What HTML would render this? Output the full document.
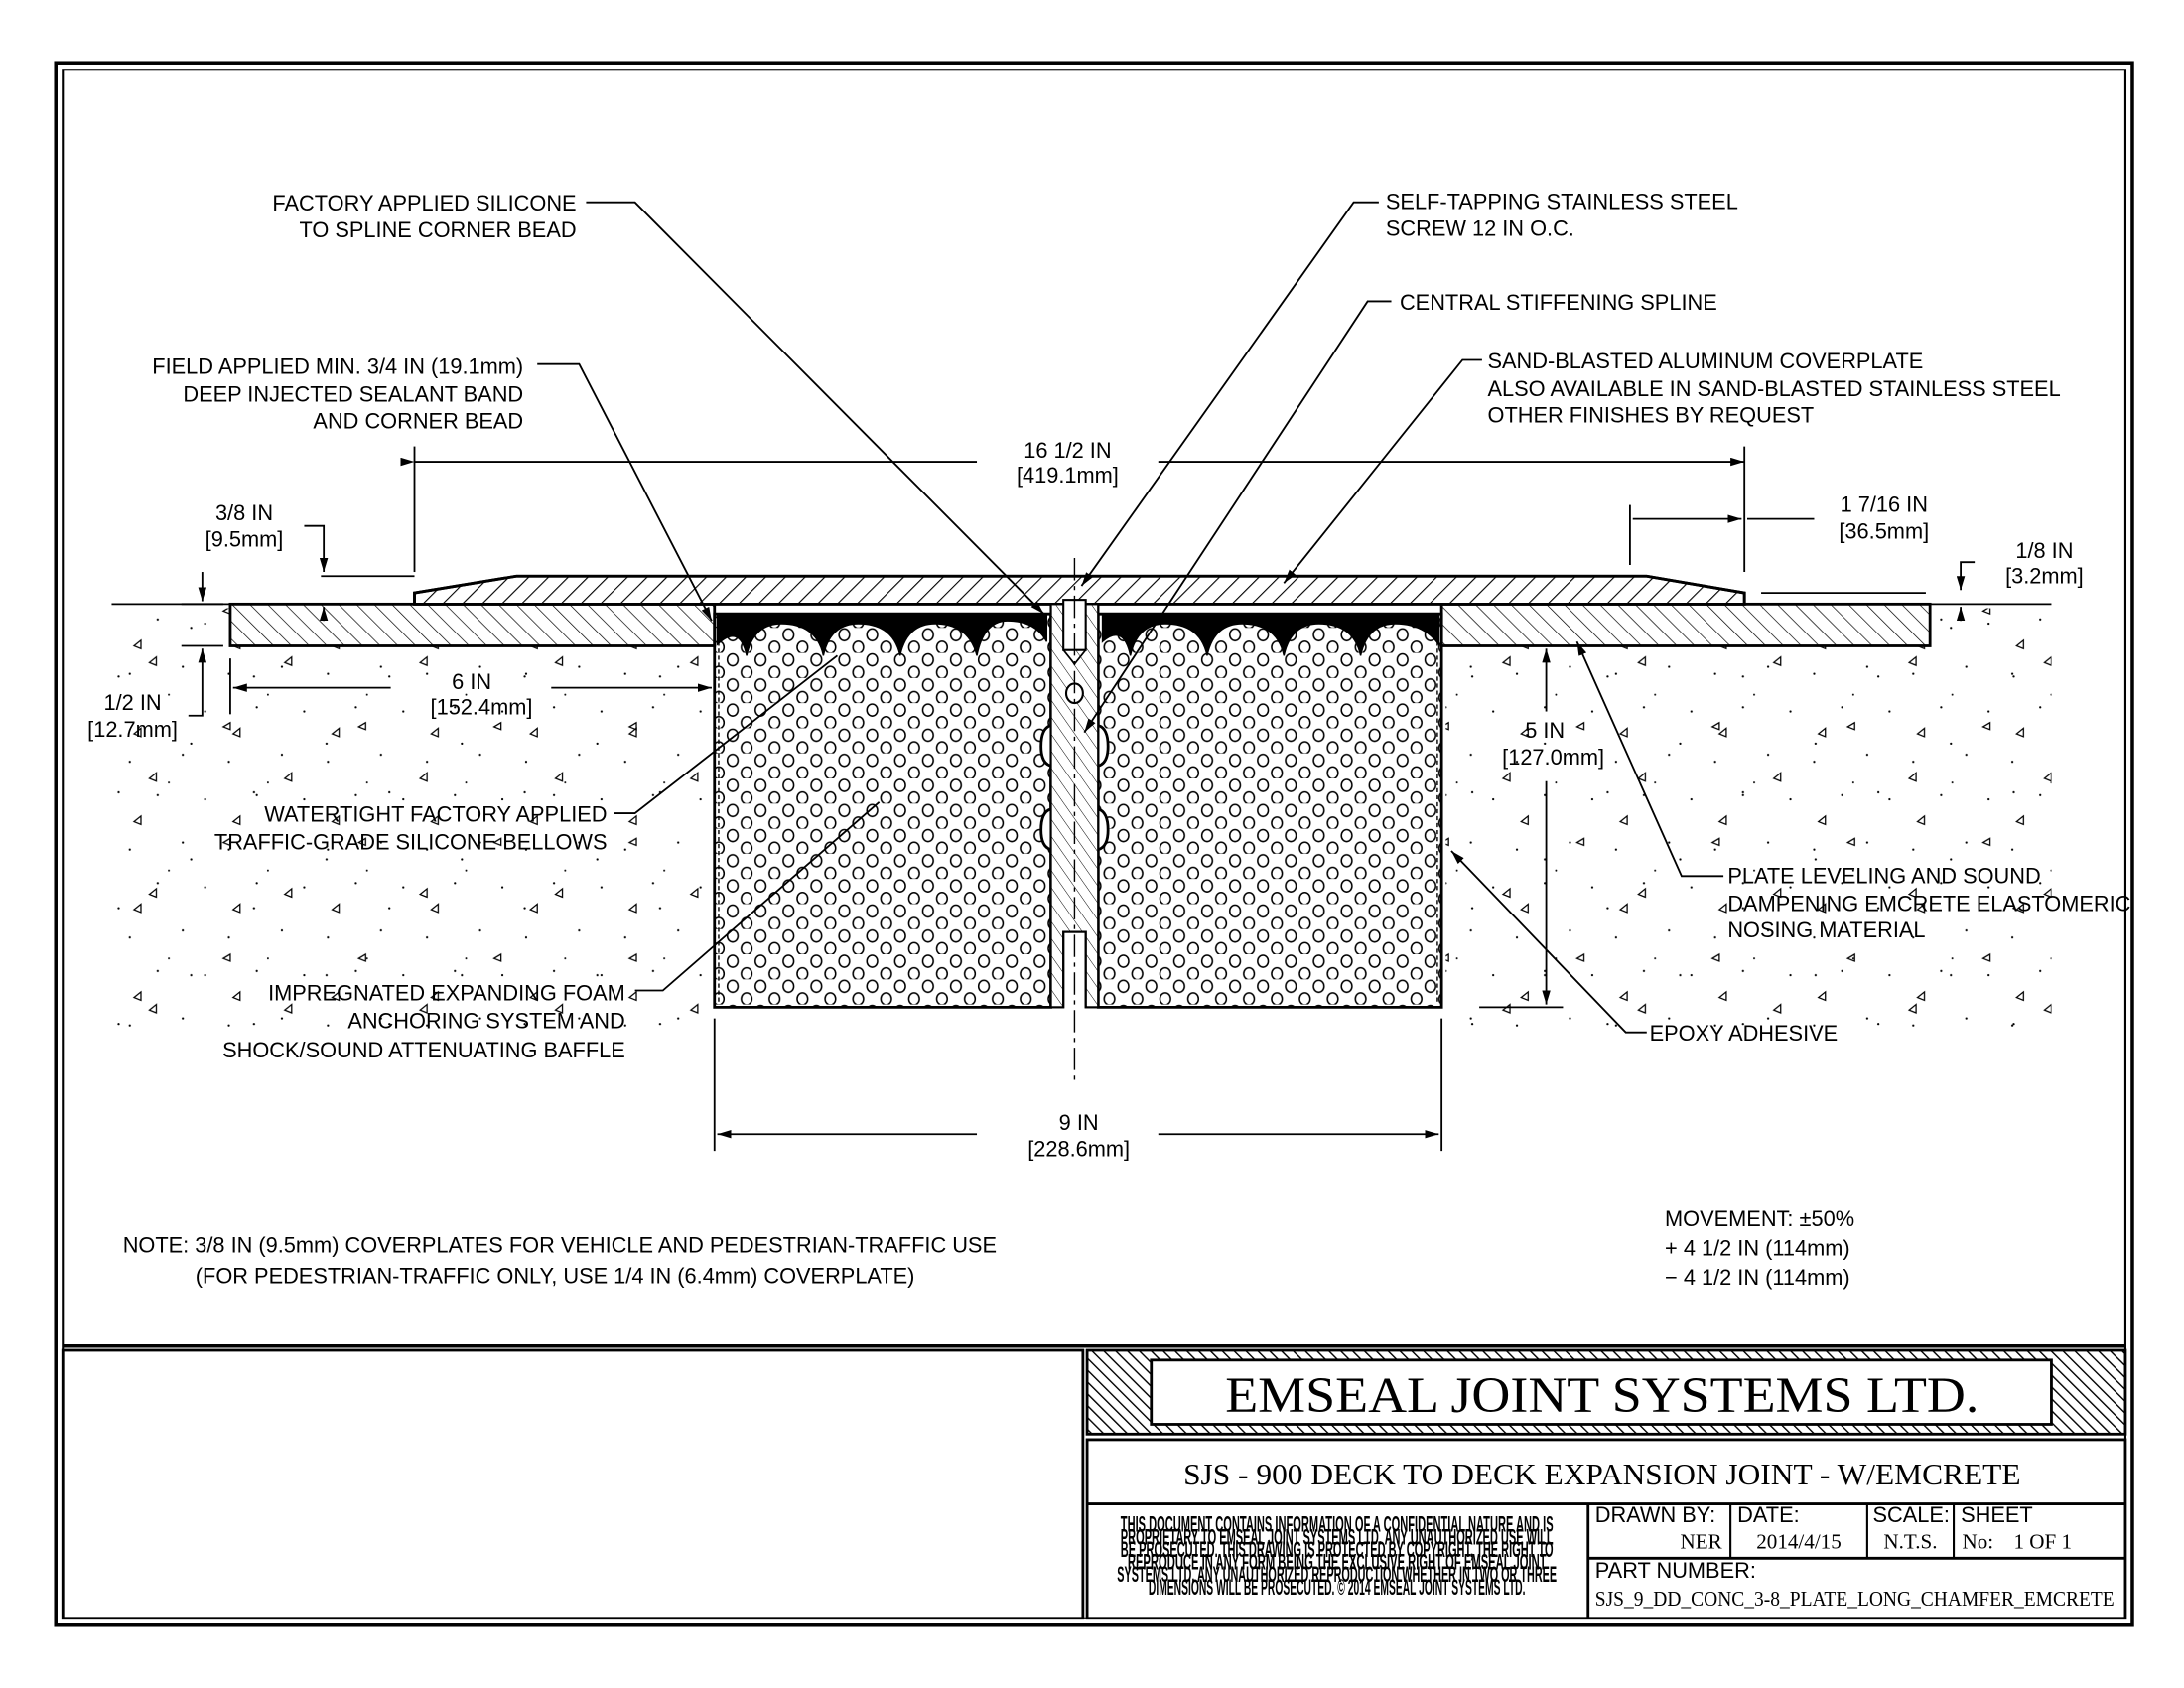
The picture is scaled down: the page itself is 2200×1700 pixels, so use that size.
<!DOCTYPE html>
<html><head><meta charset="utf-8"><style>
html,body{margin:0;padding:0;background:#fff;}
svg{display:block;}
text{font-family:"Liberation Sans",sans-serif;font-size:15.5px;fill:#000;}
.s{font-family:"Liberation Serif",serif;}
</style></head><body>
<svg width="2200" height="1700" viewBox="0 0 1565 1210" preserveAspectRatio="none" xmlns="http://www.w3.org/2000/svg">
<defs>
<pattern id="h1" width="10" height="10" patternUnits="userSpaceOnUse" patternTransform="rotate(45)">
<line x1="0" y1="0" x2="0" y2="10" stroke="#000" stroke-width="1.6"/></pattern>
<pattern id="h2" width="9" height="9" patternUnits="userSpaceOnUse" patternTransform="rotate(-45)">
<line x1="0" y1="0" x2="0" y2="9" stroke="#000" stroke-width="1"/></pattern>
<pattern id="h3" width="7" height="7" patternUnits="userSpaceOnUse" patternTransform="rotate(-35)">
<line x1="0" y1="0" x2="0" y2="7" stroke="#000" stroke-width="0.7"/></pattern>
<pattern id="h4" width="6" height="6" patternUnits="userSpaceOnUse" patternTransform="rotate(-45)">
<line x1="0" y1="0" x2="0" y2="6" stroke="#000" stroke-width="2"/></pattern>
<pattern id="foam" width="20" height="18" patternUnits="userSpaceOnUse">
<ellipse cx="5" cy="5" rx="3.8" ry="4.3" fill="none" stroke="#000" stroke-width="1.1"/>
<ellipse cx="15" cy="14" rx="3.8" ry="4.3" fill="none" stroke="#000" stroke-width="1.1"/></pattern>
<pattern id="conc" width="71" height="63" patternUnits="userSpaceOnUse">
<circle cx="5" cy="6" r="0.8"/><circle cx="42" cy="3" r="0.8"/><circle cx="60" cy="37" r="0.8"/>
<circle cx="22" cy="42" r="0.8"/><circle cx="50" cy="57" r="0.7"/><path d="M25 22 l5 -4 l0 6z" fill="none" stroke="#000" stroke-width="0.9"/></pattern>
<pattern id="conc2" width="97" height="83" patternUnits="userSpaceOnUse">
<path d="M10 60 l5 -4 l0 6z M68 20 l-5 3 l5 2z" fill="none" stroke="#000" stroke-width="0.9"/><circle cx="85" cy="70" r="0.8"/><circle cx="40" cy="35" r="0.8"/></pattern>
<marker id="ar" viewBox="0 0 10 6" refX="10" refY="3" markerWidth="10" markerHeight="6" orient="auto" markerUnits="userSpaceOnUse"><path d="M0 0L10 3L0 6z"/></marker>
</defs>

<rect x="40" y="45" width="1488" height="1120" fill="none" stroke="#000" stroke-width="2.5"/>
<rect x="45" y="50" width="1478" height="1110" fill="none" stroke="#000" stroke-width="1.5"/>
<line x1="45" y1="965" x2="1523" y2="965" stroke="#000" stroke-width="2.5"/>
<rect x="45" y="968" width="731" height="192" fill="none" stroke="#000" stroke-width="2"/>

<rect x="80" y="436" width="432" height="310" fill="url(#conc)"/>
<rect x="80" y="436" width="432" height="310" fill="url(#conc2)"/>
<rect x="1036" y="436" width="434" height="310" fill="url(#conc)"/>
<rect x="1036" y="436" width="434" height="310" fill="url(#conc2)"/>
<rect x="165" y="434" width="347" height="29" fill="#fff"/>
<rect x="1033" y="434" width="350" height="29" fill="#fff"/>

<g stroke="#000" fill="none">
<line x1="80" y1="433" x2="165" y2="433" stroke-width="1.2"/>
<line x1="1383" y1="433" x2="1470" y2="433" stroke-width="1.2"/>
<rect x="165" y="433" width="347" height="30" fill="url(#h2)" stroke-width="2"/>
<rect x="1033" y="433" width="350" height="30" fill="url(#h2)" stroke-width="2"/>
<path d="M297 433 L297 425 L370 413 L1180 413 L1250 425 L1250 433 Z" fill="#fff" stroke-width="2"/>
<path d="M297 433 L297 425 L370 413 L1180 413 L1250 425 L1250 433 Z" fill="url(#h1)" stroke-width="2"/>
<path d="M512 440 L753 440 L753 520 Q746 522 746 535 Q746 547 753 549 L753 580 Q746 582 746 595 Q746 607 753 609 L753 722 L512 722 Z" fill="url(#foam)" stroke-width="2"/>
<path d="M787 440 L1033 440 L1033 722 L787 722 L787 609 Q794 607 794 595 Q794 582 787 580 L787 549 Q794 547 794 535 Q794 522 787 520 Z" fill="url(#foam)" stroke-width="2"/>
<path d="M753 433 L787 433 L787 722 L778 722 L778 668 L762 668 L762 722 L753 722 Z" fill="#fff" stroke-width="1.5"/>
<path d="M753 433 L787 433 L787 722 L778 722 L778 668 L762 668 L762 722 L753 722 Z" fill="url(#h3)" stroke-width="1.5"/>
<rect x="762" y="430" width="16" height="36" fill="#fff" stroke-width="1.5"/>
<path d="M762 466 L770 476 L778 466" stroke-width="1.2"/>
<ellipse cx="770" cy="497" rx="6" ry="7" fill="#fff" stroke-width="1.5"/>
<line x1="770" y1="400" x2="770" y2="775" stroke-width="1" stroke-dasharray="16 4 3 4"/>
<path d="M514 440 L750 440 L750 460 Q742 445 722 445 Q705 445 700 470 Q694 447 670 447 Q650 447 645 470 Q640 447 615 447 Q595 447 590 470 Q585 447 560 447 Q540 447 535 470 Q530 447 514 462 Z" fill="#000" stroke-width="1"/>
<path d="M790 440 L1031 440 L1031 462 Q1020 447 1000 447 Q980 447 975 470 Q970 447 945 447 Q925 447 920 470 Q915 447 890 447 Q870 447 865 470 Q860 447 835 447 Q815 447 810 470 Q805 447 790 460 Z" fill="#000" stroke-width="1"/>
<line x1="515" y1="440" x2="515" y2="720" stroke-width="1" stroke-dasharray="3 2"/>
<line x1="1030" y1="440" x2="1030" y2="720" stroke-width="1" stroke-dasharray="3 2"/>
</g>

<g stroke="#000" stroke-width="1.3" fill="none">
<line x1="297" y1="320" x2="297" y2="410"/><line x1="1250" y1="320" x2="1250" y2="410"/>
<line x1="297" y1="331" x2="700" y2="331" marker-start="url(#ar)"/><line x1="830" y1="331" x2="1250" y2="331" marker-end="url(#ar)"/>
<line x1="230" y1="413" x2="297" y2="413"/><path d="M218 377 L232 377 L232 410" marker-end="url(#ar)"/>
<line x1="232" y1="445" x2="232" y2="435" marker-end="url(#ar)"/>
<line x1="130" y1="433" x2="160" y2="433"/><line x1="145" y1="410" x2="145" y2="431" marker-end="url(#ar)"/>
<line x1="130" y1="463" x2="160" y2="463"/><path d="M135 513 L145 513 L145 465" marker-end="url(#ar)"/>
<line x1="165" y1="472" x2="165" y2="512"/>
<line x1="280" y1="493" x2="167" y2="493" marker-end="url(#ar)"/><line x1="395" y1="493" x2="510" y2="493" marker-end="url(#ar)"/>
<line x1="1168" y1="362" x2="1168" y2="405"/>
<line x1="1170" y1="372" x2="1248" y2="372" marker-end="url(#ar)"/><line x1="1300" y1="372" x2="1252" y2="372"/>
<line x1="1262" y1="425" x2="1380" y2="425"/><path d="M1415 403 L1405 403 L1405 423" marker-end="url(#ar)"/>
<line x1="1405" y1="445" x2="1405" y2="435" marker-end="url(#ar)"/>
<line x1="1060" y1="463" x2="1120" y2="463"/><line x1="1060" y1="722" x2="1120" y2="722"/>
<line x1="1108" y1="510" x2="1108" y2="465" marker-end="url(#ar)"/><line x1="1108" y1="560" x2="1108" y2="720" marker-end="url(#ar)"/>
<line x1="512" y1="730" x2="512" y2="825"/><line x1="1033" y1="730" x2="1033" y2="825"/>
<line x1="700" y1="813" x2="514" y2="813" marker-end="url(#ar)"/><line x1="830" y1="813" x2="1031" y2="813" marker-end="url(#ar)"/>
</g>

<g stroke="#000" stroke-width="1.3" fill="none">
<path d="M420 145 L455 145 L748 440" marker-end="url(#ar)"/>
<path d="M385 261 L415 261 L510 445" marker-end="url(#ar)"/>
<path d="M988 145 L970 145 L775 420" marker-end="url(#ar)"/>
<path d="M997 216 L980 216 L777 525" marker-end="url(#ar)"/>
<path d="M1062 258 L1048 258 L920 418" marker-end="url(#ar)"/>
<path d="M440 583 L455 583 L600 470"/>
<path d="M455 710 L475 710 L630 575"/>
<path d="M1235 628 L1205 628 L1130 460" marker-end="url(#ar)"/>
<path d="M1180 740 L1165 740 L1040 610" marker-end="url(#ar)"/>
</g>

<g text-anchor="end">
<text x="413" y="151">FACTORY APPLIED SILICONE</text>
<text x="413" y="170">TO SPLINE CORNER BEAD</text>
<text x="375" y="268">FIELD APPLIED MIN. 3/4 IN (19.1mm)</text>
<text x="375" y="288">DEEP INJECTED SEALANT BAND</text>
<text x="375" y="307">AND CORNER BEAD</text>
<text x="435" y="589">WATERTIGHT FACTORY APPLIED</text>
<text x="435" y="609">TRAFFIC-GRADE SILICONE BELLOWS</text>
<text x="448" y="717">IMPREGNATED EXPANDING FOAM</text>
<text x="448" y="737">ANCHORING SYSTEM AND</text>
<text x="448" y="758">SHOCK/SOUND ATTENUATING BAFFLE</text>
</g>
<text x="993" y="150">SELF-TAPPING STAINLESS STEEL</text>
<text x="993" y="169">SCREW 12 IN O.C.</text>
<text x="1003" y="222">CENTRAL STIFFENING SPLINE</text>
<text x="1066" y="264">SAND-BLASTED ALUMINUM COVERPLATE</text>
<text x="1066" y="284">ALSO AVAILABLE IN SAND-BLASTED STAINLESS STEEL</text>
<text x="1066" y="303">OTHER FINISHES BY REQUEST</text>
<text x="1238" y="633">PLATE LEVELING AND SOUND</text>
<text x="1238" y="653">DAMPENING EMCRETE ELASTOMERIC</text>
<text x="1238" y="672">NOSING MATERIAL</text>
<text x="1182" y="746">EPOXY ADHESIVE</text>

<g text-anchor="middle">
<text x="765" y="328">16 1/2 IN</text><text x="765" y="346">[419.1mm]</text>
<text x="175" y="373">3/8 IN</text><text x="175" y="392">[9.5mm]</text>
<text x="95" y="509">1/2 IN</text><text x="95" y="528">[12.7mm]</text>
<text x="338" y="494">6 IN</text><text x="345" y="512">[152.4mm]</text>
<text x="1350" y="367">1 7/16 IN</text><text x="1350" y="386">[36.5mm]</text>
<text x="1465" y="400">1/8 IN</text><text x="1465" y="418">[3.2mm]</text>
<text x="1107" y="529">5 IN</text><text x="1113" y="548">[127.0mm]</text>
<text x="773" y="810">9 IN</text><text x="773" y="829">[228.6mm]</text>
</g>
<text x="88" y="898">NOTE: 3/8 IN (9.5mm) COVERPLATES FOR VEHICLE AND PEDESTRIAN-TRAFFIC USE</text>
<text x="140" y="920">(FOR PEDESTRIAN-TRAFFIC ONLY, USE 1/4 IN (6.4mm) COVERPLATE)</text>
<text x="1193" y="879">MOVEMENT: ±50%</text>
<text x="1193" y="900">+ 4 1/2 IN (114mm)</text>
<text x="1193" y="921">− 4 1/2 IN (114mm)</text>

<g stroke="#000" fill="none">
<rect x="779" y="968" width="744" height="60" fill="url(#h4)" stroke-width="2"/>
<rect x="825" y="975" width="645" height="46" fill="#fff" stroke-width="2"/>
<rect x="779" y="1032" width="744" height="128" stroke-width="2"/>
<line x1="779" y1="1078" x2="1523" y2="1078" stroke-width="2"/>
<line x1="1138" y1="1078" x2="1138" y2="1160" stroke-width="2"/>
<line x1="1138" y1="1117" x2="1523" y2="1117" stroke-width="2"/>
<line x1="1240" y1="1078" x2="1240" y2="1117" stroke-width="1.5"/>
<line x1="1338" y1="1078" x2="1338" y2="1117" stroke-width="1.5"/>
<line x1="1400" y1="1078" x2="1400" y2="1117" stroke-width="1.5"/>
</g>
<text class="s" x="1148" y="1012" text-anchor="middle" style="font-size:36px" textLength="540" lengthAdjust="spacingAndGlyphs">EMSEAL JOINT SYSTEMS LTD.</text>
<text class="s" x="1148" y="1064" text-anchor="middle" style="font-size:22px" textLength="600" lengthAdjust="spacingAndGlyphs">SJS - 900 DECK TO DECK EXPANSION JOINT - W/EMCRETE</text>
<g text-anchor="middle" style="font-size:7.5px;font-weight:bold">
<text x="958" y="1098" textLength="310" lengthAdjust="spacingAndGlyphs">THIS DOCUMENT CONTAINS INFORMATION OF A CONFIDENTIAL NATURE AND IS</text>
<text x="958" y="1107" textLength="310" lengthAdjust="spacingAndGlyphs">PROPRIETARY TO EMSEAL JOINT SYSTEMS LTD. ANY UNAUTHORIZED USE WILL</text>
<text x="958" y="1116" textLength="310" lengthAdjust="spacingAndGlyphs">BE PROSECUTED. THIS DRAWING IS PROTECTED BY COPYRIGHT, THE RIGHT TO</text>
<text x="958" y="1125" textLength="300" lengthAdjust="spacingAndGlyphs">REPRODUCE IN ANY FORM BEING THE EXCLUSIVE RIGHT OF EMSEAL JOINT</text>
<text x="958" y="1134" textLength="315" lengthAdjust="spacingAndGlyphs">SYSTEMS LTD. ANY UNAUTHORIZED REPRODUCTION WHETHER IN TWO OR THREE</text>
<text x="958" y="1143" textLength="270" lengthAdjust="spacingAndGlyphs">DIMENSIONS WILL BE PROSECUTED. © 2014 EMSEAL JOINT SYSTEMS LTD.</text>
</g>
<g style="font-size:12px">
<text x="1143" y="1091">DRAWN BY:</text><text x="1245" y="1091">DATE:</text><text x="1342" y="1091">SCALE:</text><text x="1405" y="1091">SHEET</text>
<text x="1143" y="1131">PART NUMBER:</text>
</g>
<text class="s" x="1234" y="1110" text-anchor="end" style="font-size:15px">NER</text>
<text class="s" x="1289" y="1110" text-anchor="middle" style="font-size:15px">2014/4/15</text>
<text class="s" x="1369" y="1110" text-anchor="middle" style="font-size:15px">N.T.S.</text>
<text class="s" x="1406" y="1110" style="font-size:15px">No:</text><text class="s" x="1443" y="1110" style="font-size:15px">1 OF 1</text>
<text class="s" x="1143" y="1151" style="font-size:15px" textLength="372" lengthAdjust="spacingAndGlyphs">SJS_9_DD_CONC_3-8_PLATE_LONG_CHAMFER_EMCRETE</text>
</svg>
</body></html>
